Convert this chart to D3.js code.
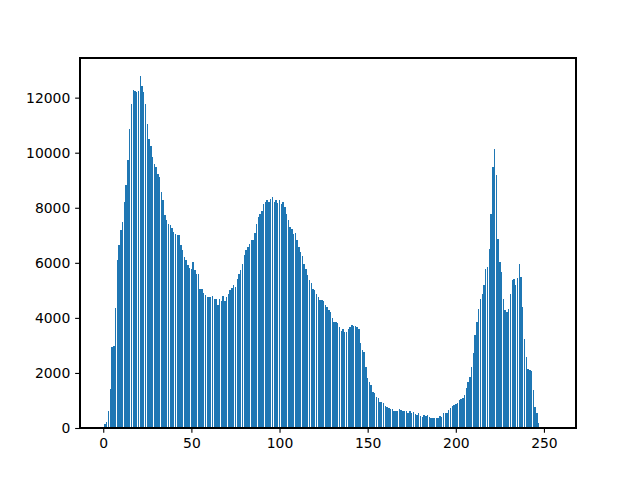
<!DOCTYPE html>
<html>
<head>
<meta charset="utf-8">
<script src="https://cdn.jsdelivr.net/npm/d3@7"></script>
<style>
  html, body { margin: 0; padding: 0; background: #fff; }
  svg { display: block; }
  .tick text { font-family: "DejaVu Sans", sans-serif; font-size: 13.9px; fill: #000; }
</style>
</head>
<body>
<svg id="chart" width="640" height="480"></svg>
<script>
// Pixel intensity bins 0..255
const bins = d3.range(0, 256);
const counts = [
  50, 150, 200, 630, 1430, 2950, 2980, 4350, 6090, 6630,
  7180, 7480, 8200, 8810, 9720, 10870, 11780, 12280, 12240, 12200,
  12250, 12800, 12440, 12200, 11780, 11050, 10500, 10260, 9830, 9600,
  9470, 9240, 9100, 8570, 8270, 7720, 7540, 7400, 7360, 7250,
  7120, 7060, 7000, 7000, 6640, 6450, 6210, 6090, 5910, 5800,
  5790, 6030, 5750, 5600, 5610, 5060, 5060, 4900, 4820, 4760,
  4760, 4760, 4780, 4700, 4670, 4460, 4700, 4620, 4790, 4620,
  4750, 4880, 5030, 5090, 5190, 5120, 5430, 5610, 5750, 5970,
  6270, 6480, 6580, 6700, 6820, 6820, 7080, 7420, 7660, 7760,
  7900, 8150, 8210, 8290, 8210, 8330, 8390, 8210, 8270, 8170,
  8290, 8150, 8210, 8030, 7780, 7540, 7300, 7240, 7060, 7080,
  6820, 6580, 6390, 6240, 5970, 5790, 5550, 5390, 5250, 5060,
  5000, 4860, 4760, 4640, 4660, 4620, 4460, 4400, 4300, 4220,
  3980, 3860, 3860, 3800, 3670, 3530, 3610, 3490, 3490, 3610,
  3670, 3740, 3700, 3700, 3680, 3610, 3070, 2830, 2770, 2220,
  1800, 1680, 1560, 1320, 1260, 1140, 1080, 960, 950, 900,
  800, 780, 740, 700, 700, 620, 600, 600, 690, 650,
  630, 600, 600, 560, 600, 540, 570, 500, 470, 530,
  440, 410, 470, 440, 470, 410, 375, 375, 375, 375,
  380, 450, 410, 530, 560, 550, 640, 720, 800, 840,
  880, 920, 1000, 1050, 1100, 1200, 1440, 1680, 1860, 2220,
  2710, 3370, 3860, 4340, 4700, 4880, 5190, 5790, 5850, 6520,
  7780, 9480, 10140, 9180, 6880, 6030, 5670, 4700, 4300, 4220,
  4340, 4880, 5370, 5430, 5190, 5450, 5970, 5490, 4400, 3250,
  2590, 2160, 2100, 2080, 1380, 770, 530, 170, 50, 0,
  0, 0, 0, 0, 0, 0
];
const xTicks = [0, 50, 100, 150, 200, 250];
const yTicks = [0, 2000, 4000, 6000, 8000, 10000, 12000];

const margin = {left: 80, top: 58, right: 64, bottom: 52};
const W = 640, H = 480;
const iw = W - margin.left - margin.right;   // 496
const ih = H - margin.top - margin.bottom;   // 370
const barW = 0.8;

const lo = d3.min(bins) - barW / 2, hi = d3.max(bins) + barW / 2;
const padX = (hi - lo) * 0.05;
const x = d3.scaleLinear().domain([lo - padX, hi + padX]).range([0, iw]);
const y = d3.scaleLinear().domain([0, d3.max(counts) * 1.05]).range([ih, 0]);

const svg = d3.select("#chart");
const g = svg.append("g").attr("transform", `translate(${margin.left},${margin.top})`);

g.append("g").attr("shape-rendering", "crispEdges").selectAll("rect")
  .data(bins)
  .join("rect")
  .attr("x", (d) => x(d - barW / 2))
  .attr("width", x(barW) - x(0))
  .attr("y", (d, i) => y(counts[i]))
  .attr("height", (d, i) => y(0) - y(counts[i]))
  .attr("fill", "#1f77b4");

const xAxis = g.append("g")
  .attr("transform", `translate(0,${ih})`)
  .call(d3.axisBottom(x).tickValues(xTicks).tickFormat(d3.format("d")).tickSizeOuter(0).tickSize(4.86).tickPadding(4.9));
const yAxis = g.append("g")
  .call(d3.axisLeft(y).tickValues(yTicks).tickFormat(d3.format("d")).tickSizeOuter(0).tickSize(4.86).tickPadding(4.9));
[xAxis, yAxis].forEach(a => {
  a.select(".domain").remove();
  a.selectAll(".tick line").attr("stroke", "#000").attr("stroke-width", 1.1);
});

// frame (spines)
g.append("rect")
  .attr("x", 0).attr("y", 0).attr("width", iw).attr("height", ih)
  .attr("fill", "none").attr("stroke", "#000").attr("stroke-width", 1.1)
  .attr("shape-rendering", "crispEdges");
</script>
</body>
</html>
